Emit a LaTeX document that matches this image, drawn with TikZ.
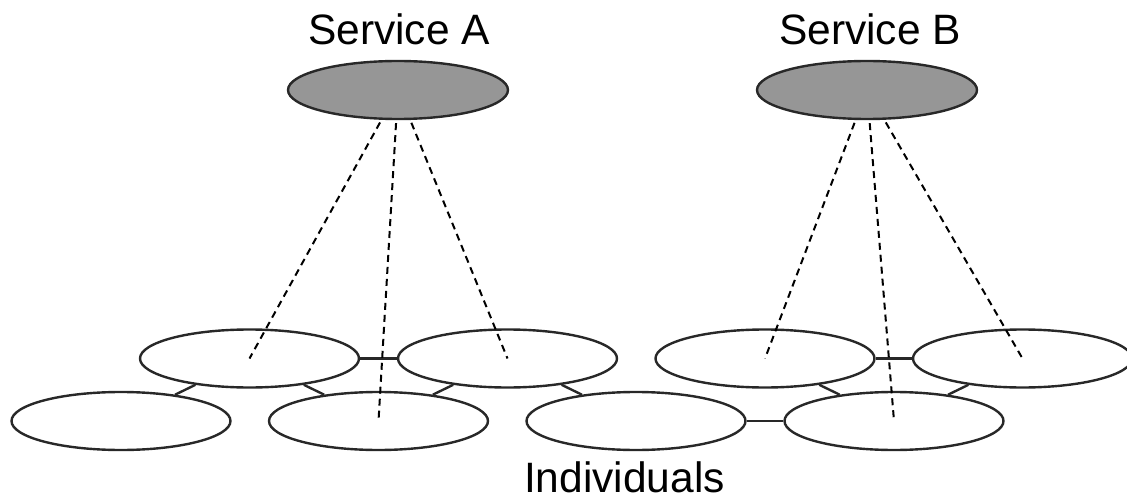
\documentclass[tikz,border=0pt]{standalone}
\usepackage{fontspec}
\setmainfont{Liberation Sans}
\usetikzlibrary{shapes.geometric}
\definecolor{servicegray}{RGB}{150,150,150}
\definecolor{linegray}{RGB}{40,40,40}
\tikzset{
  service/.style={ellipse, draw=linegray, line width=2.4pt, fill=servicegray, minimum width=220pt, minimum height=58pt, inner sep=0pt},
  indiv/.style={ellipse, draw=linegray, line width=2.4pt, fill=white, minimum width=219pt, minimum height=58pt, inner sep=0pt},
  link/.style={draw=linegray, line width=2.4pt},
  dashlink/.style={draw=black, line width=2pt, dash pattern=on 7pt off 5pt, shorten <=3pt},
  label/.style={font=\fontsize{42.5}{50}\selectfont, anchor=base, inner sep=0pt}
}
\begin{document}
\begin{tikzpicture}[x=1pt,y=-1pt]
\useasboundingbox (0,0) rectangle (1127,500);
\node[label] (ta) at (399,45) {Service A};
\node[label] (tb) at (870,45) {Service B};
\node[label] (ti) at (624.5,492) {Individuals};
\node[service] (sa) at (398,90) {};
\node[service] (sb) at (867,90) {};
\node[indiv] (e1) at (249.5,358.5) {};
\node[indiv] (e2) at (507.5,358.5) {};
\node[indiv] (e3) at (121,421) {};
\node[indiv] (e4) at (378.5,421) {};
\node[indiv] (e5) at (636,421) {};
\node[indiv] (e6) at (765,358.5) {};
\node[indiv] (e7) at (1022.5,358.5) {};
\node[indiv] (e8) at (894,421) {};
\draw[link] (e1) -- (e2);
\draw[link] (e1) -- (e3);
\draw[link] (e1) -- (e4);
\draw[link] (e2) -- (e4);
\draw[link] (e2) -- (e5);
\draw[link] (e5) -- (e8);
\draw[link] (e6) -- (e7);
\draw[link] (e6) -- (e8);
\draw[link] (e7) -- (e8);
\draw[dashlink] (sa) -- (e1.center);
\draw[dashlink] (sa) -- (e4.center);
\draw[dashlink] (sa) -- (e2.center);
\draw[dashlink] (sb) -- (e6.center);
\draw[dashlink] (sb) -- (e8.center);
\draw[dashlink] (sb) -- (e7.center);
\end{tikzpicture}
\end{document}
